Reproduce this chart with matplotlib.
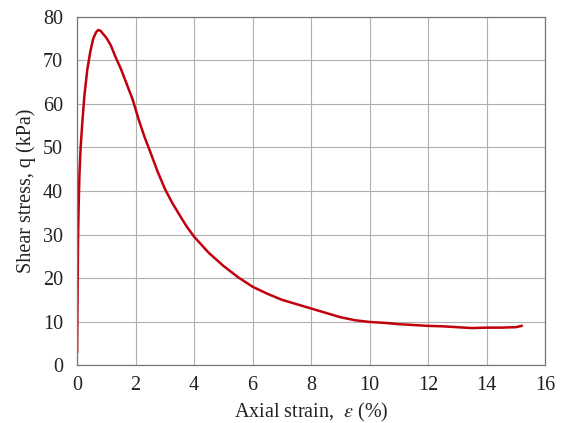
import matplotlib
matplotlib.use("Agg")
import matplotlib.pyplot as plt

# values
strain = [0, 0.01, 0.02, 0.03, 0.05, 0.08, 0.12, 0.18, 0.25, 0.35, 0.45, 0.55,
          0.65, 0.72, 0.8, 0.9, 1.0, 1.15, 1.3, 1.5, 1.7, 1.9, 2.1, 2.3, 2.5,
          2.75, 3.0, 3.25, 3.5, 3.75, 4.0, 4.5, 5.0, 5.5, 6.0, 6.5, 7.0, 7.5,
          8.0, 8.5, 9.0, 9.5, 10.0, 10.5, 11.0, 11.5, 12.0, 12.5, 13.0, 13.5,
          14.0, 14.5, 15.0, 15.2]
stress = [3, 12, 20, 28, 36, 44, 50, 56, 62, 68, 72, 75,
          76.5, 77, 76.8, 76, 75.2, 73.5, 71, 68, 64.5, 61, 56.5, 52.5, 49,
          44.5, 40.5, 37.3, 34.5, 31.8, 29.5, 25.8, 22.8, 20.2, 18, 16.4, 15, 14,
          13, 12, 11, 10.3, 9.9, 9.7, 9.4, 9.2, 9.0, 8.9, 8.7, 8.5,
          8.6, 8.6, 8.7, 9.0]

x_ticks = [0, 2, 4, 6, 8, 10, 12, 14, 16]
y_ticks = [0, 10, 20, 30, 40, 50, 60, 70, 80]

plt.rcParams['font.family'] = ['Liberation Serif', 'DejaVu Serif']
plt.rcParams['mathtext.fontset'] = 'stix'

fig = plt.figure(figsize=(5.63, 4.23), dpi=100)
ax = fig.add_axes([0.137, 0.137, 0.831, 0.823])

ax.plot(strain, stress, color='#c0000c', linewidth=1.8)

ax.set_xlim(0, 16)
ax.set_ylim(0, 80)
ax.set_xticks(x_ticks)
ax.set_yticks(y_ticks)
ax.grid(True, color='#b0b0b0', linewidth=0.8)
ax.set_axisbelow(True)
ax.tick_params(length=0, labelsize=14.5, colors='#222222')
ax.tick_params(axis='y', pad=10)
ax.tick_params(axis='x', pad=8)
for s in ax.spines.values():
    s.set_color('#777777')
    s.set_linewidth(0.9)

ax.set_xlabel(r"Axial strain,  $\varepsilon$ (%)", fontsize=14.5, color='#222222', labelpad=4)
ax.set_ylabel("Shear stress, q (kPa)", fontsize=14.5, color='#222222', labelpad=5)

fig.savefig("out.png", dpi=100)
